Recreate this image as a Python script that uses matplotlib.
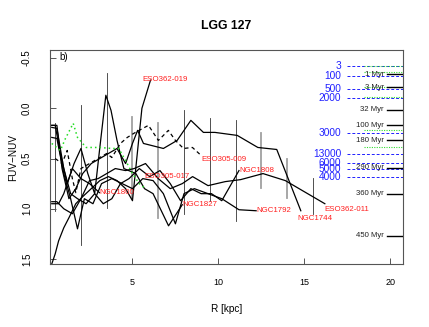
import numpy as np
import matplotlib
matplotlib.use('Agg')
import matplotlib.pyplot as plt

plt.rcParams['font.family'] = ['Liberation Sans', 'DejaVu Sans']

# profiles FUV-NUV vs R, one per galaxy (last point = label position)
eso362_019_r = [0.3, 0.5, 0.7, 1.0, 1.3, 1.7, 2.1, 2.6, 3.1, 3.6, 4.1, 4.6, 5.0, 5.55, 6.05]
eso362_019_c = [1.55, 1.45, 1.32, 1.19, 1.09, 0.95, 0.88, 0.8, 0.72, 0.68, 0.72, 0.8, 0.92, 0.0, -0.28]

ngc1800_r = [0.3, 0.7, 1.0, 1.5, 2.0, 2.5, 3.08]
ngc1800_c = [0.95, 0.95, 0.85, 0.6, 0.7, 0.75, 0.84]

ngc1827_r = [0.3, 0.5, 0.8, 1.2, 1.6, 2.0, 2.4, 2.8, 3.1, 3.45, 3.75, 4.1, 4.5, 5.2, 5.7, 6.2, 7.1, 7.9]
ngc1827_c = [0.17, 0.17, 0.45, 0.75, 0.55, 0.4, 0.65, 0.85, 0.39, -0.13, 0.02, 0.32, 0.6, 0.65, 0.8, 0.85, 1.17, 0.96]

ngc1792_r = [0.3, 0.6, 1.0, 1.4, 1.8, 2.2, 2.7, 3.2, 3.8, 4.4, 5.0, 5.6, 6.2, 6.8, 7.5, 8.0, 8.6, 9.4, 10.2, 11.2, 12.2]
ngc1792_c = [0.29, 0.3, 0.65, 0.9, 1.2, 0.9, 0.95, 0.75, 0.7, 0.75, 0.8, 0.7, 0.72, 0.85, 1.15, 0.85, 0.8, 0.85, 0.9, 1.01, 1.02]

ngc1808_r = [0.3, 0.6, 1.0, 1.4, 1.8, 2.3, 2.8, 3.3, 3.8, 4.3, 4.8, 5.4, 6.0, 6.6, 7.2, 7.8, 8.4, 9.0, 9.6, 10.2, 11.2]
ngc1808_c = [0.19, 0.2, 0.6, 0.85, 0.9, 0.95, 0.85, 0.95, 0.9, 0.75, 0.7, 0.6, 0.68, 0.62, 0.75, 0.92, 0.8, 0.85, 0.85, 0.92, 0.62]

ngc1744_r = [0.3, 0.6, 0.9, 1.3, 1.7, 2.1, 2.6, 3.1, 3.6, 4.1, 4.6, 5.0, 5.3, 5.64, 6.8, 7.6, 8.4, 9.13, 9.8, 11.1, 12.3, 13.4, 14.8]
ngc1744_c = [0.17, 0.17, 0.6, 0.9, 0.8, 0.65, 0.55, 0.5, 0.45, 0.4, 0.55, 0.35, 0.22, 0.35, 0.4, 0.32, 0.12, 0.24, 0.24, 0.27, 0.39, 0.41, 1.02]

eso362_011_r = [0.3, 0.6, 1.0, 1.5, 2.0, 2.5, 3.0, 3.5, 4.0, 4.6, 5.1, 5.76, 6.5, 7.2, 7.9, 8.5, 9.4, 10.4, 11.3, 12.6, 13.9, 16.2]
eso362_011_c = [0.93, 0.93, 1.0, 1.05, 0.9, 0.72, 0.7, 0.65, 0.6, 0.62, 0.6, 0.55, 0.7, 0.8, 0.75, 0.68, 0.77, 0.73, 0.71, 0.65, 0.72, 0.95]

eso305_009_r = [0.5, 0.9, 1.2, 1.5, 1.7, 2.0, 2.5, 3.0, 3.5, 3.8, 4.3, 4.7, 5.17, 5.93, 6.51, 7.09, 7.5, 7.97, 8.49, 9.0]
eso305_009_c = [0.5, 0.55, 0.42, 0.7, 0.84, 0.6, 0.55, 0.5, 0.45, 0.49, 0.35, 0.29, 0.24, 0.17, 0.32, 0.22, 0.32, 0.4, 0.39, 0.47]

eso305_017_r = [0.3, 0.8, 1.1, 1.55, 1.8, 2.3, 3.1, 3.8, 4.2, 4.6, 5.0, 5.4, 5.75]
eso305_017_c = [0.35, 0.42, 0.3, 0.15, 0.29, 0.39, 0.39, 0.4, 0.4, 0.52, 0.65, 0.75, 0.8]

labels = ['ESO362-019', 'ESO305-009', 'NGC1808', 'ESO305-017', 'NGC1800',
          'NGC1827', 'NGC1792', 'NGC1744', 'ESO362-011']
label_x = [5.6, 9.0, 11.2, 5.7, 3.08, 7.9, 12.2, 14.6, 16.2]
label_y = [-0.29, 0.51, 0.62, 0.68, 0.84, 0.96, 1.02, 1.1, 1.01]

# error bars
err_r = [0.47, 2.0, 3.5, 5.0, 6.5, 8.0, 9.5, 11.0, 12.5, 14.0, 15.5]
err_lo = [0.15, -0.03, -0.35, 0.09, 0.15, 0.02, 0.10, 0.12, 0.25, 0.50, 0.69]
err_hi = [1.02, 1.36, 0.99, 0.89, 1.09, 1.05, 0.92, 1.12, 0.79, 0.89, 1.05]
err_grey = [False, False, False, True, True, False, False, False, True, True, False]

# model tracks on the right
age_labels = ['1 Myr', '3 Myr', '32 Myr', '100 Myr', '180 Myr', '290 Myr', '360 Myr', '450 Myr']
age_vals = [-0.34, -0.21, 0.017, 0.17, 0.32, 0.59, 0.85, 1.27]
blue_labels = ['3', '100', '500', '2000', '3000', '13000', '6000', '5000', '4000']
blue_vals = [-0.42, -0.32, -0.19, -0.10, 0.25, 0.46, 0.54, 0.60, 0.68]
green_vals = [-0.42, -0.36, -0.21, -0.11, 0.22, 0.39]

fig = plt.figure(figsize=(4.29, 3.27), dpi=100)
ax = fig.add_axes([0.1166, 0.1927, 0.8228, 0.6543])

for x, lo, hi, g in zip(err_r, err_lo, err_hi, err_grey):
    if g:
        ax.plot([x, x], [lo, hi], color='#a0a0a0', lw=1.3, zorder=1)
    else:
        ax.plot([x, x], [lo, hi], color='#333333', lw=0.6, zorder=1)

for r, c in [(eso362_019_r, eso362_019_c), (ngc1800_r, ngc1800_c), (ngc1827_r, ngc1827_c),
             (ngc1792_r, ngc1792_c), (ngc1808_r, ngc1808_c), (ngc1744_r, ngc1744_c),
             (eso362_011_r, eso362_011_c)]:
    ax.plot(r, c, color='black', lw=0.9, zorder=2)
ax.plot(eso305_009_r, eso305_009_c, color='black', lw=0.9, ls=(0, (3, 2.5)), zorder=2)
ax.plot(eso305_017_r, eso305_017_c, color='#22dd22', lw=1.1, ls=(0, (1, 2)), zorder=3)

for t, x, y in zip(labels, label_x, label_y):
    ax.text(x, y, t, color='#ff2020', fontsize=5.7, ha='left', va='center', zorder=4)

for y in blue_vals:
    ax.plot([17.5, 21], [y, y], color='#2020ff', lw=0.7, ls=(0, (3, 2)), zorder=2)
for t, y in zip(blue_labels, blue_vals):
    ax.text(17.15, y, t, color='#2020ff', fontsize=7.3, ha='right', va='center')
for y in green_vals:
    ax.plot([18.5, 21], [y, y], color='#33dd33', lw=0.8, ls=(0, (1, 1.2)), zorder=2)
for y in age_vals:
    ax.plot([19.8, 21], [y, y], color='black', lw=1.0, zorder=3)
for t, y in zip(age_labels, age_vals):
    ax.text(19.65, y, t, color='#222222', fontsize=5.6, ha='right', va='center', zorder=4)

ax.text(0.75, -0.51, 'b)', fontsize=7, ha='left', va='center')

ax.set_xlim(0.2, 20.75)
ax.set_ylim(1.55, -0.58)
ax.set_xticks([5, 10, 15, 20])
ax.set_yticks([-0.5, 0.0, 0.5, 1.0, 1.5])
ax.set_yticklabels(['-0.5', '0.0', '0.5', '1.0', '1.5'], rotation=90, va='center')
ax.tick_params(direction='in', length=4, width=0.7, color='#555555', labelsize=6.5)
ax.tick_params(axis='x', pad=10)
ax.tick_params(axis='y', pad=13, labelsize=7)
for s in ax.spines.values():
    s.set_color('#555555')
    s.set_linewidth(0.8)

ax.set_xlabel('R [kpc]', fontsize=7.2, labelpad=12)
ax.set_ylabel('FUV\u2212NUV', fontsize=7.2, labelpad=3)
ax.set_title('LGG 127', fontsize=8.8, fontweight='bold', pad=15)

fig.savefig('out.png', dpi=100)
